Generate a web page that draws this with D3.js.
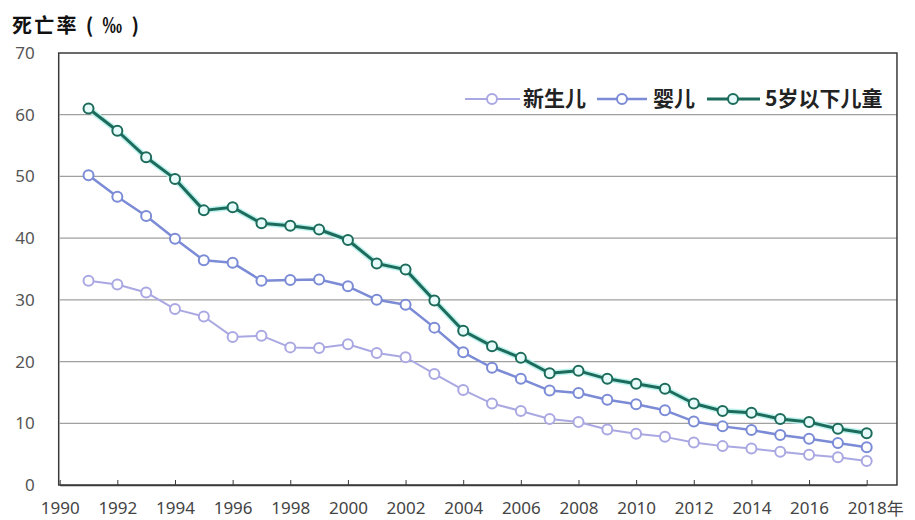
<!DOCTYPE html>
<html><head><meta charset="utf-8">
<script src="https://cdn.jsdelivr.net/npm/d3@7/dist/d3.min.js"></script>
<style>html,body{margin:0;padding:0;background:#fff;}</style>
</head><body>
<svg id="chart" width="915" height="520"></svg>
<script>
const years = d3.range(1991, 2019);
const neonatal = [33.1,32.5,31.2,28.5,27.3,24.0,24.2,22.3,22.2,22.8,21.4,20.7,18.0,15.4,13.2,12.0,10.7,10.2,9.0,8.3,7.8,6.9,6.3,5.9,5.4,4.9,4.5,3.9];
const infant   = [50.2,46.7,43.6,39.9,36.4,36.0,33.1,33.2,33.3,32.2,30.0,29.2,25.5,21.5,19.0,17.2,15.3,14.9,13.8,13.1,12.1,10.3,9.5,8.9,8.1,7.5,6.8,6.1];
const under5   = [61.0,57.4,53.1,49.6,44.5,45.0,42.4,42.0,41.4,39.7,35.9,34.9,29.9,25.0,22.5,20.6,18.1,18.5,17.2,16.4,15.6,13.2,12.0,11.7,10.7,10.2,9.1,8.4];
const seriesNames = ["新生儿","婴儿","5岁以下儿童"];
const xTickValues = d3.range(1990, 2019, 2);
const yTickValues = [0,10,20,30,40,50,60,70];
const yTitle = "死亡率 ( ‰ )";
const xUnit = "年";

const colors = ["#aaa8e2","#7b8bd6","#1d6b5b"];
const widths = [2,2.5,3];
const fills = ["#fff","#fff","#e6fbfa"];

const svg = d3.select("#chart");
const x = d3.scaleLinear().domain([1990, 2018]).range([59.7, 866.7]);
const y = d3.scaleLinear().domain([0, 70]).range([485, 53]);
const xMax = 2019.05;

// gridlines
svg.append("g").selectAll("line").data(yTickValues.filter(v => v > 0 && v < 70)).join("line")
  .attr("x1", x(1990)).attr("x2", x(xMax))
  .attr("y1", d => y(d)).attr("y2", d => y(d))
  .attr("stroke", "#a0a0a0").attr("stroke-width", 1.2);

// frame
svg.append("rect").attr("x", x(1990) - 1).attr("y", y(70))
  .attr("width", x(xMax) - x(1990) + 1).attr("height", y(0) - y(70))
  .attr("fill", "none").attr("stroke", "#3a3a3a").attr("stroke-width", 1.5);

// x axis
const xAxis = d3.axisBottom(x).tickValues(xTickValues).tickSizeInner(-5).tickSizeOuter(0)
  .tickPadding(17).tickFormat(d3.format("d"));
const gx = svg.append("g").attr("transform", `translate(0,${y(0)})`).call(xAxis);
gx.select(".domain").attr("stroke", "#3a3a3a").attr("stroke-width", 1.5);
gx.selectAll(".tick line").attr("stroke", "#3a3a3a");
gx.selectAll(".tick text").attr("font-family", "Noto Sans, DejaVu Sans, sans-serif")
  .attr("font-size", 17).attr("fill", "#444");
gx.append("text").attr("x", x(2018) + 20).attr("y", 17).attr("dy", "0.78em")
  .attr("font-family", "Noto Sans CJK SC, sans-serif").attr("font-size", 17).attr("fill", "#444")
  .attr("text-anchor", "start").text(xUnit);

// y axis
const yAxis = d3.axisLeft(y).tickValues(yTickValues).tickSize(0).tickPadding(25);
const gy = svg.append("g").attr("transform", `translate(${x(1990)},0)`).call(yAxis);
gy.select(".domain").remove();
gy.selectAll(".tick text").attr("font-family", "Noto Sans, DejaVu Sans, sans-serif")
  .attr("font-size", 17).attr("fill", "#555");

// title
svg.append("text").attr("x", 12).attr("y", 33)
  .attr("font-family", "Noto Sans CJK SC, sans-serif").attr("font-weight", "bold")
  .attr("font-size", 20).attr("fill", "#111")
  .attr("textLength", 127).attr("lengthAdjust", "spacing").text(yTitle);

// series
const allSeries = [neonatal, infant, under5];
const line = d3.line().x((d, i) => x(years[i])).y(d => y(d));
svg.append("path").datum(under5).attr("d", line).attr("fill", "none")
  .attr("stroke", "#bdf2ee").attr("stroke-width", 6).attr("stroke-linejoin", "round");
allSeries.forEach((vals, si) => {
  const g = svg.append("g");
  g.append("path").datum(vals).attr("d", line).attr("fill", "none")
    .attr("stroke", colors[si]).attr("stroke-width", widths[si]).attr("stroke-linejoin", "round");
  g.selectAll("circle").data(vals).join("circle")
    .attr("cx", (d, i) => x(years[i])).attr("cy", d => y(d)).attr("r", 5)
    .attr("fill", fills[si]).attr("stroke", colors[si]).attr("stroke-width", 2);
});

// legend
const legendItems = [
  {x0: 465, x1: 520, cx: 492, tx: 523},
  {x0: 597, x1: 647, cx: 622, tx: 653},
  {x0: 707, x1: 760, cx: 733, tx: 765}
];
const ly = 99;
legendItems.forEach((it, i) => {
  const g = svg.append("g");
  g.append("line").attr("x1", it.x0).attr("x2", it.x1).attr("y1", ly).attr("y2", ly)
    .attr("stroke", colors[i]).attr("stroke-width", widths[i]);
  g.append("circle").attr("cx", it.cx).attr("cy", ly).attr("r", 5)
    .attr("fill", fills[i]).attr("stroke", colors[i]).attr("stroke-width", 2);
  g.append("text").attr("x", it.tx).attr("y", ly + 7)
    .attr("font-family", "Noto Sans CJK SC, sans-serif").attr("font-weight", "bold")
    .attr("font-size", 21).attr("fill", "#222").text(seriesNames[i]);
});
</script>
</body></html>
